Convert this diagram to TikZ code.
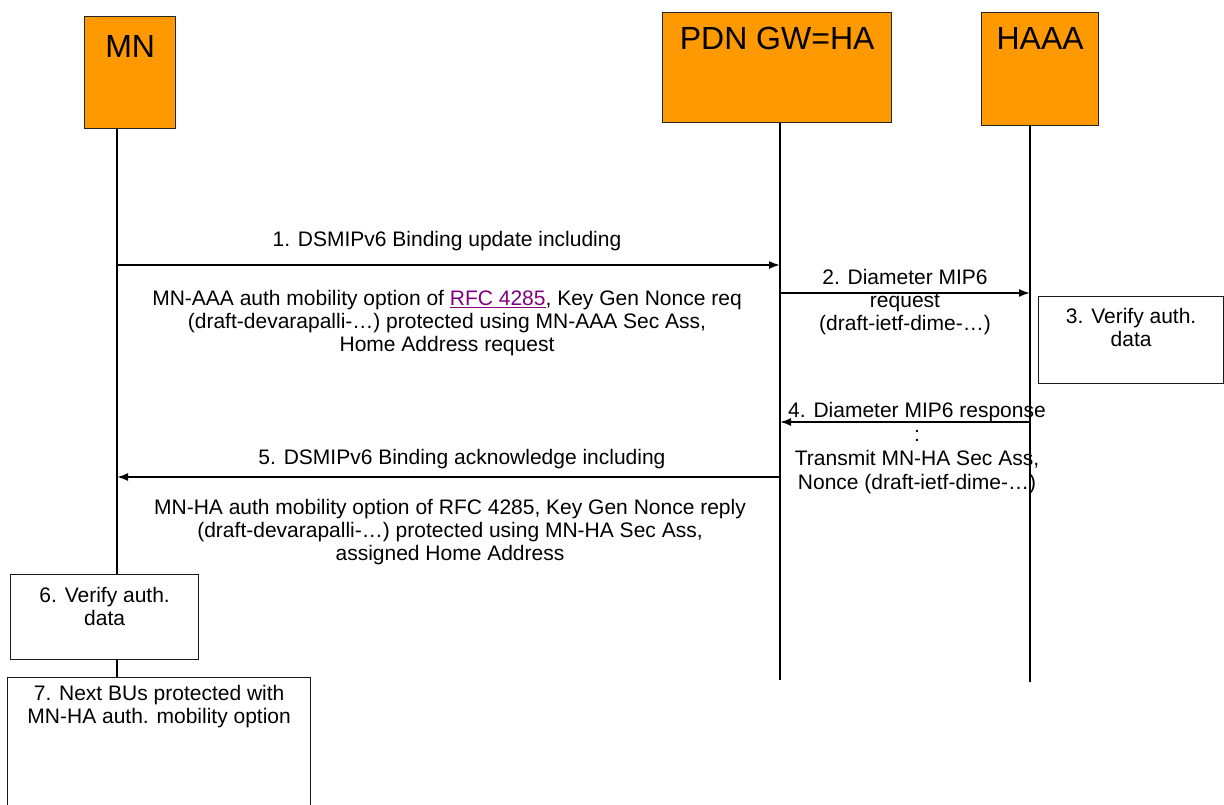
\documentclass[tikz,border=0pt]{standalone}
\usepackage{fontspec}
\setmainfont{Liberation Sans}
\usetikzlibrary{arrows.meta,positioning}
\definecolor{boxorange}{HTML}{FF9900}
\definecolor{linkpurple}{HTML}{800080}

\begin{document}
\begin{tikzpicture}[x=1pt, y=-1pt,
		actor/.style = {draw=black!85, fill=boxorange, line width=1.3pt,
				anchor=north west, inner sep=0pt},
		stepbox/.style = {draw=black!90, line width=1.3pt, anchor=north west,
				inner sep=0pt},
		head/.style = {font=\fontsize{32}{36}\selectfont, inner sep=0pt},
		txt/.style = {font=\fontsize{21}{23}\selectfont, align=center,
				inner sep=0pt},
		life/.style = {line width=1.2pt},
		msg/.style = {->, line width=1.8pt},
		>={Latex[length=11pt,width=8pt]}
	]
	\useasboundingbox (0,0) rectangle (1224,805);
	\clip (0,0) rectangle (1224,805);

	% entities
	\node[actor, minimum width=91pt, minimum height=112pt] (mn) at (84,16) {};
	\node[actor, minimum width=229pt, minimum height=110pt] (pdn) at (662,12) {};
	\node[actor, minimum width=117pt, minimum height=113pt] (haaa) at (981,12) {};
	\node[head, below=19pt of mn.north] (mnname) {MN};
	\node[head, below=15pt of pdn.north] (pdnname) {PDN GW=HA};
	\node[head, below=15pt of haaa.north] (haaaname) {HAAA};

	% local steps
	\node[stepbox, minimum width=185pt, minimum height=87pt] (verify3) at (1038,296) {};
	\node[txt, below=12pt of verify3.north] (verify3txt) {3. Verify auth.\\data};
	\node[stepbox, minimum width=188pt, minimum height=85pt] (verify6) at (10,574) {};
	\node[txt, below=13pt of verify6.north] (verify6txt) {6. Verify auth.\\data};
	\node[stepbox, minimum width=303pt, minimum height=140pt] (nextbu) at (7,677) {};
	\node[txt, below=8pt of nextbu.north] (nextbutxt)
	{7. Next BUs protected with\\MN-HA auth. mobility option};

	% lifelines
	\coordinate (mnline) at (117,0);
	\coordinate (pdnend) at (780,680);
	\coordinate (haaaend) at (1030,682);
	\draw[life] (mn.south -| mnline) -- (verify6.north -| mnline);
	\draw[life] (verify6.south -| mnline) -- (nextbu.north -| mnline);
	\draw[life] (pdn.south -| pdnend) -- (pdnend);
	\draw[life] (haaa.south -| haaaend) -- (haaaend);

	% messages
	\coordinate (m1a) at (117,265);
	\coordinate (m1b) at (780,265);
	\draw[msg] (m1a) -- (m1b);
	\node[txt] (m1lbl) at (447,241) {1. DSMIPv6 Binding update including};
	\node[txt] (m1txt) at (447,323) {MN-AAA auth mobility option of
		{\color{linkpurple}\underline{RFC 4285}}, Key Gen Nonce req\\
		(draft-devarapalli-…) protected using MN-AAA Sec Ass,\\
		Home Address request};

	\coordinate (m2a) at (780,293);
	\coordinate (m2b) at (1030,293);
	\draw[msg] (m2a) -- (m2b);
	\node[txt] (m2txt) at (905,302) {2. Diameter MIP6\\request\\(draft-ietf-dime-…)};

	\coordinate (m4a) at (1030,422);
	\coordinate (m4b) at (780,422);
	\draw[msg] (m4a) -- (m4b);
	\node[txt, font=\fontsize{21}{24}\selectfont] (m4txt) at (917,448)
	{4. Diameter MIP6 response\\:\\Transmit MN-HA Sec Ass,\\Nonce (draft-ietf-dime-…)};

	\coordinate (m5a) at (780,477);
	\coordinate (m5b) at (117,477);
	\draw[msg] (m5a) -- (m5b);
	\node[txt] (m5lbl) at (462,459) {5. DSMIPv6 Binding acknowledge including};
	\node[txt] (m5txt) at (450,532) {MN-HA auth mobility option of RFC 4285, Key Gen Nonce reply\\
		(draft-devarapalli-…) protected using MN-HA Sec Ass,\\
		assigned Home Address};
\end{tikzpicture}
\end{document}
